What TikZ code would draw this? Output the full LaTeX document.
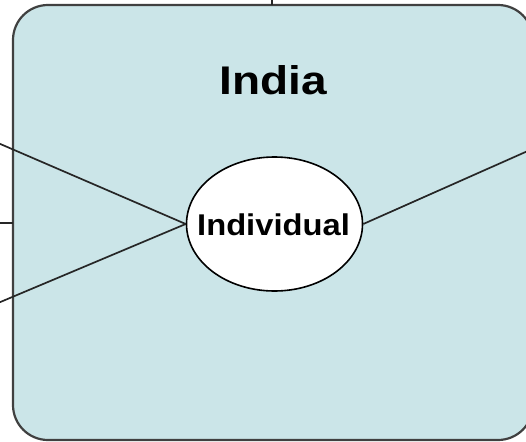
\documentclass[tikz,border=0pt]{standalone}
\usepackage{fontspec}
\usetikzlibrary{shapes.geometric}
\newfontfamily\indiafont[FakeStretch=1.15]{Liberation Sans}
\newfontfamily\indivfont[FakeStretch=1.09]{Liberation Sans}
\definecolor{boxfill}{HTML}{CBE5E8}
\definecolor{boxline}{HTML}{404040}
\tikzset{
  countrybox/.style={draw=boxline, line width=2.2pt, fill=boxfill, rounded corners=35pt,
    minimum width=520pt, minimum height=435pt, inner sep=0pt},
  personnode/.style={ellipse, draw=black, line width=1.6pt, fill=white,
    minimum width=176pt, minimum height=134pt, inner sep=0pt},
  persontext/.style={font=\indivfont\bfseries\fontsize{30}{36}\selectfont, inner sep=0pt},
  titletext/.style={font=\indiafont\bfseries\fontsize{40}{48}\selectfont, inner sep=0pt},
  link/.style={draw=black!85, line width=1.7pt}
}
\begin{document}
\begin{tikzpicture}[x=1pt, y=-1pt]
\useasboundingbox (0,0) rectangle (526,441);
\node[countrybox] (box) at (273,222.5) {};
\node[titletext, anchor=base] (title) at (273,94) {India};
\coordinate (topin) at (272,-2);
\coordinate (topend) at (272,5);
\coordinate (l1) at (-2,143);
\coordinate (l2) at (-2,223);
\coordinate (l2end) at (13,223);
\coordinate (l3) at (-2,303);
\coordinate (r1) at (530,150);
\node[personnode] (ind) at (274.5,224) {};
\node[persontext, anchor=base] (indlabel) at (273.5,235) {Individual};
\draw[link] (topin) -- (topend);
\draw[link] (l2) -- (l2end);
\draw[link] (l1) -- (ind.west);
\draw[link] (l3) -- (ind.west);
\draw[link] (ind.east) -- (r1);
\end{tikzpicture}
\end{document}
